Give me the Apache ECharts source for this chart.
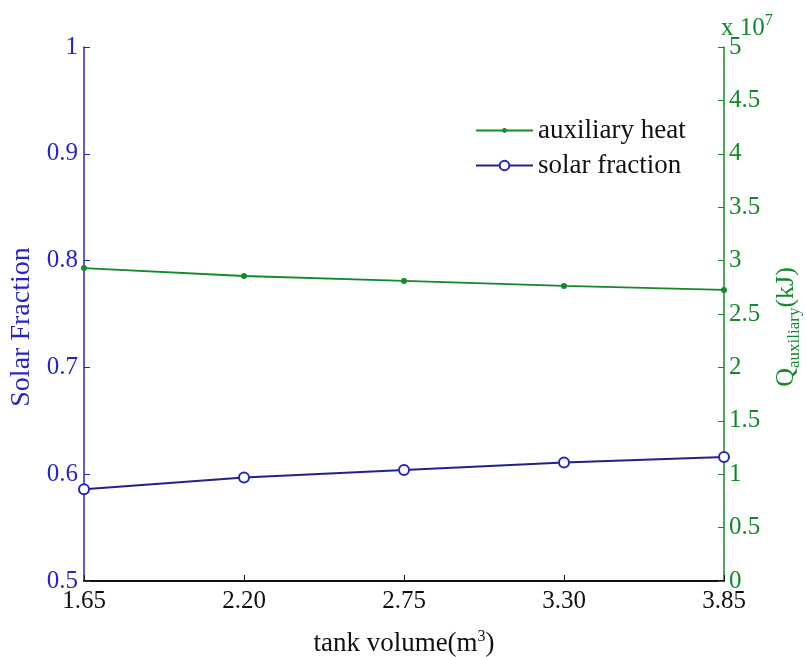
<!DOCTYPE html>
<html><head><meta charset="utf-8">
<script src="https://cdn.jsdelivr.net/npm/echarts@6/dist/echarts.min.js"></script>
<style>html,body{margin:0;padding:0;background:#fff}#c{width:806px;height:657px}</style>
</head><body><div id="c"></div>
<script>
var categories = ['1.65', '2.20', '2.75', '3.30', '3.85'];
var solarFraction = [0.586, 0.597, 0.604, 0.611, 0.616];
var auxiliaryHeat = [2.93e7, 2.856e7, 2.81e7, 2.763e7, 2.725e7];
var leftTicks = [0.5, 0.6, 0.7, 0.8, 0.9, 1];
var rightTicks = [0, 0.5, 1, 1.5, 2, 2.5, 3, 3.5, 4, 4.5, 5];

var BLUE = '#2626c8', GREEN = '#128a2a', FONT = 'Liberation Serif';
var TICK = 25, TITLE = 27;
var chart = echarts.init(document.getElementById('c'));
chart.setOption({
  animation: false,
  backgroundColor: '#fff',
  grid: {left: 84, right: 82, top: 47, bottom: 76, containLabel: false, outerBoundsMode: 'none'},
  legend: [{
    left: 475, top: 117, padding: 0, itemWidth: 57, itemHeight: 6,
    textStyle: {fontFamily: FONT, fontSize: 27, color: '#111'},
    data: ['auxiliary heat']
  }, {
    left: 475, top: 152, padding: 0, itemWidth: 57, itemHeight: 12,
    textStyle: {fontFamily: FONT, fontSize: 27, color: '#111'},
    data: ['solar fraction']
  }],
  xAxis: {
    type: 'category', data: categories, boundaryGap: false,
    name: 'tank volume(m{sup|3})', nameLocation: 'middle', nameGap: 48,
    nameTextStyle: {fontFamily: FONT, fontSize: TITLE, color: '#111',
      rich: {sup: {fontFamily: FONT, fontSize: 16, color: '#111', padding: [0,0,14,0]}}},
    axisLine: {lineStyle: {color: '#111', width: 2}},
    axisTick: {inside: true, length: 6, lineStyle: {color: '#111'}},
    axisLabel: {fontFamily: FONT, fontSize: TICK, color: '#111', margin: 8}
  },
  yAxis: [{
    type: 'value', min: 0.5, max: 1, interval: 0.1, position: 'left',
    name: 'Solar Fraction', nameLocation: 'middle', nameGap: 46, nameRotate: 90,
    nameTextStyle: {fontFamily: FONT, fontSize: 28, color: BLUE, padding: [0, 26, 0, 0]},
    axisLine: {show: true, lineStyle: {color: BLUE, width: 1.5}},
    axisTick: {show: true, inside: true, length: 6, lineStyle: {color: BLUE}},
    axisLabel: {fontFamily: FONT, fontSize: TICK, color: BLUE, margin: 6,
      formatter: function (v) { var r = leftTicks.find(function (t) { return Math.abs(t - v) < 1e-9; }); return r === undefined ? '' : String(r); }},
    splitLine: {show: false}
  }, {
    type: 'value', min: 0, max: 5e7, interval: 0.5e7, position: 'right',
    name: '{q|Q}{sub|auxiliary}{q|(kJ)}', nameLocation: 'middle', nameGap: 46, nameRotate: 90,
    nameTextStyle: {fontFamily: FONT, fontSize: 26, color: GREEN, padding: [0, 26, 0, 0],
      rich: {q: {fontFamily: FONT, fontSize: 26, color: GREEN},
             sub: {fontFamily: FONT, fontSize: 17, color: GREEN, padding: [16,0,0,0]}}},
    axisLine: {show: true, lineStyle: {color: GREEN, width: 1.5}},
    axisTick: {show: true, inside: true, length: 6, lineStyle: {color: GREEN}},
    axisLabel: {fontFamily: FONT, fontSize: TICK, color: GREEN, margin: 5,
      formatter: function (v) { var x = v / 1e7; var r = rightTicks.find(function (t) { return Math.abs(t - x) < 1e-9; }); return r === undefined ? '' : String(r); }},
    splitLine: {show: false}
  }],
  graphic: [{
    type: 'text', left: 721, top: 13,
    style: {text: 'x 10{sup|7}', fontFamily: FONT, fontSize: 25, fill: GREEN,
      rich: {sup: {fontFamily: FONT, fontSize: 16, fill: GREEN, padding: [0,0,14,0]}}}
  }],
  series: [{
    name: 'auxiliary heat', type: 'line', yAxisIndex: 1, data: auxiliaryHeat,
    symbol: 'circle', symbolSize: 6,
    lineStyle: {color: GREEN, width: 1.8}, itemStyle: {color: GREEN}
  }, {
    name: 'solar fraction', type: 'line', yAxisIndex: 0, data: solarFraction,
    symbol: 'emptyCircle', symbolSize: 10,
    lineStyle: {color: '#22228a', width: 2}, itemStyle: {color: BLUE, borderColor: BLUE, borderWidth: 1.3}
  }]
});
</script></body></html>
